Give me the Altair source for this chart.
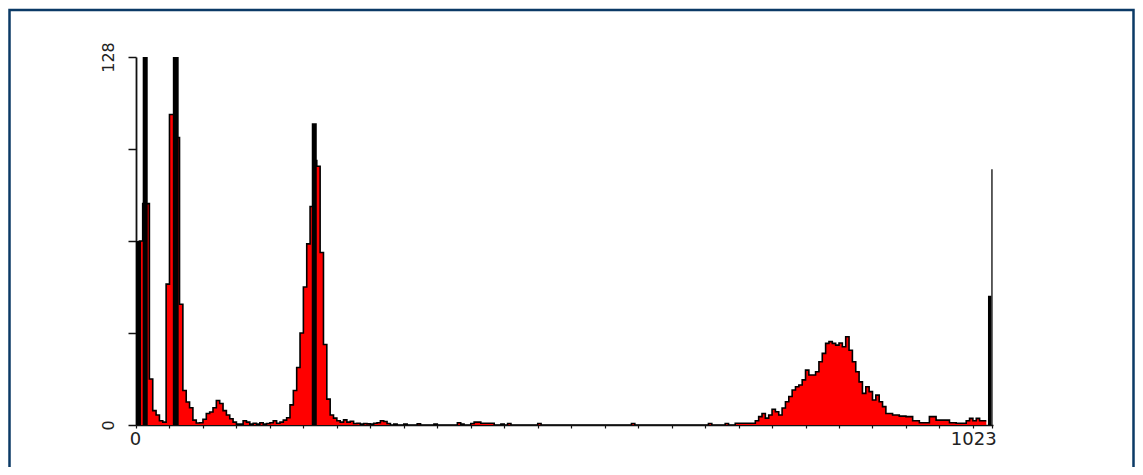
import altair as alt
import pandas as pd

# 256 bins of 4 channels each (0..1023) - red (gated) histogram counts
red_counts = (
    [0, 64, 77, 77, 16, 5, 3.5, 1.5, 1, 49,
     108, 108, 100, 42, 12, 8, 6, 1.7, 0.7, 0.8]                 # 0-19
    + [2, 4, 4.5, 6, 8.5, 7.5, 5, 3.5, 2.2, 1, 0.3]               # 20-30
    + [0.3, 1.5, 1, 0.3, 0.6, 0.3, 0.8, 0.3, 0.5, 0.8, 1.5, 0.6]  # 31-42
    + [1, 1.7, 2.5, 7, 12, 20, 32, 48, 63, 76, 92, 90, 60, 28, 9,
       3.5, 2.4, 1.5, 1, 1.8, 1, 1.3, 0.5]                        # 43-65
    + [0.6, 0.3, 0.5, 0.4, 0.3, 0.6, 0.8, 1.5, 1.2, 0.5]          # 66-75
    + [0, 0.3, 0, 0, 0.3, 0, 0, 0, 0.4, 0, 0, 0, 0, 0.3, 0, 0,
       0, 0, 0, 0, 0.8, 0.3, 0, 0]                                # 76-99
    + [0.5, 1, 1, 0.6, 0.6, 0.6, 0.6, 0, 0, 0.3, 0]               # 100-110
    + [0.5, 0, 0, 0, 0, 0, 0, 0, 0, 0.5, 0, 0, 0, 0, 0, 0, 0, 0,
       0, 0, 0, 0, 0, 0, 0, 0, 0, 0, 0, 0, 0, 0, 0, 0, 0, 0, 0, 0.5,
       0, 0, 0, 0, 0, 0, 0, 0, 0, 0, 0, 0, 0, 0, 0, 0, 0, 0, 0, 0,
       0, 0, 0.5, 0, 0, 0, 0, 0.5, 0, 0]                          # 111-180
    + [0.6, 0.6, 0.6, 0.6, 0.6, 0.6]                              # 181-186
    + [1.5, 2.9, 4, 2.4, 3.5, 5.5, 4.6, 3.5, 5.9, 8.1, 9.9, 12.2,
       13.3, 13.9, 15.7, 19.1, 17.4, 17.4, 18.5, 22, 24.9, 28.4,
       29, 28.4, 27.8, 28.5, 27.2, 30.7, 26, 22, 18.5, 15, 11, 13.3,
       11.6, 8.7, 10.4, 8.1, 6.4, 4, 4, 3.5, 3.5, 3.1, 3.1, 2.9, 2.9,
       1.5, 1.5, 0.8, 0.8, 0.8, 2.9, 2.9, 1.7, 1.7, 1.7, 1.7, 0.8,
       0.8, 0.6, 0.6, 0.6, 1.5, 2.3, 1.5, 2.3, 1.5, 1.5]          # 187-255
)
bin_width = 4

# black (ungated) histogram where it rises above the red one
spike_start = [0, 8, 44, 210, 1018, 1022]
spike_end = [6, 14, 51, 216, 1022, 1023.5]
spike_count = [64, 150, 150, 105, 45, 89]

x_tick_values = list(range(0, 1001, 40)) + [1023]
y_tick_values = [0, 32, 64, 96, 128]

W, H = 857, 368
PAD_L, PAD_T, PAD_R, PAD_B = 128, 49, 142, 42

starts = [i * bin_width for i in range(len(red_counts))]
red_df = pd.DataFrame({
    "x": starts + [len(red_counts) * bin_width],
    "count": red_counts + [red_counts[-1]],
})
spike_df = pd.DataFrame({"x": spike_start, "x2": spike_end, "count": spike_count})

xscale = alt.Scale(domain=[0, 1024], nice=False, zero=False)
yscale = alt.Scale(domain=[0, 128], nice=False)

x_axis = alt.Axis(
    values=x_tick_values,
    format="d",
    labelExpr="datum.value == 0 || datum.value == 1023 ? datum.label : ''",
    labelAlign={"condition": {"test": "datum.value > 500", "value": "right"}, "value": "center"},
    labelOffset={"condition": {"test": "datum.value > 500", "value": 4}, "value": -1},
    tickSize=3, tickWidth=1.2, tickColor="#111",
    domainColor="#111", domainWidth=1.5,
    labelFont="DejaVu Sans", labelFontSize=18, labelColor="#222",
    labelPadding=2, grid=False, title=None, labelOverlap=False,
)
y_axis = alt.Axis(
    values=y_tick_values,
    format="d",
    labelExpr="datum.value == 0 || datum.value == 128 ? datum.label : ''",
    labelAngle=270, labelBaseline="bottom", labelAlign="center",
    tickSize=8, tickWidth=1.5, tickColor="#111",
    domainColor="#111", domainWidth=1.8,
    labelFont="DejaVu Sans", labelFontSize=16, labelColor="#222",
    labelPadding=12, grid=False, title=None, labelOverlap=False,
)

red_area = alt.Chart(red_df).mark_area(
    interpolate="step-after", color="#ff0000", clip=True
).encode(
    x=alt.X("x:Q", scale=xscale, axis=x_axis),
    y=alt.Y("count:Q", scale=yscale, axis=y_axis),
)

outline = alt.Chart(red_df).mark_line(
    interpolate="step-after", color="#000000", strokeWidth=1.6, clip=True
).encode(
    x=alt.X("x:Q", scale=xscale, axis=x_axis),
    y=alt.Y("count:Q", scale=yscale, axis=y_axis),
)

spikes = alt.Chart(spike_df).mark_rect(color="#000000", clip=True).encode(
    x=alt.X("x:Q", scale=xscale, axis=x_axis),
    x2="x2:Q",
    y=alt.Y("count:Q", scale=yscale, axis=y_axis),
    y2=alt.datum(0),
)

frame = alt.Chart(pd.DataFrame({"k": [0]})).mark_rect(
    fill=None, stroke="#0b3a66", strokeWidth=2.5, clip=False
).encode(
    x=alt.value(-PAD_L + 1.5),
    x2=alt.value(W + PAD_R - 1.5),
    y=alt.value(-PAD_T + 2),
    y2=alt.value(H + PAD_B + 10),
)

chart = alt.layer(red_area, outline, spikes, frame).properties(
    width=W, height=H,
    autosize=alt.AutoSizeParams(type="none"),
    padding={"left": PAD_L, "top": PAD_T, "right": PAD_R, "bottom": PAD_B},
    background="white",
).configure_view(stroke=None)

chart.save("out.html", embed_options={"renderer": "svg", "actions": False})
